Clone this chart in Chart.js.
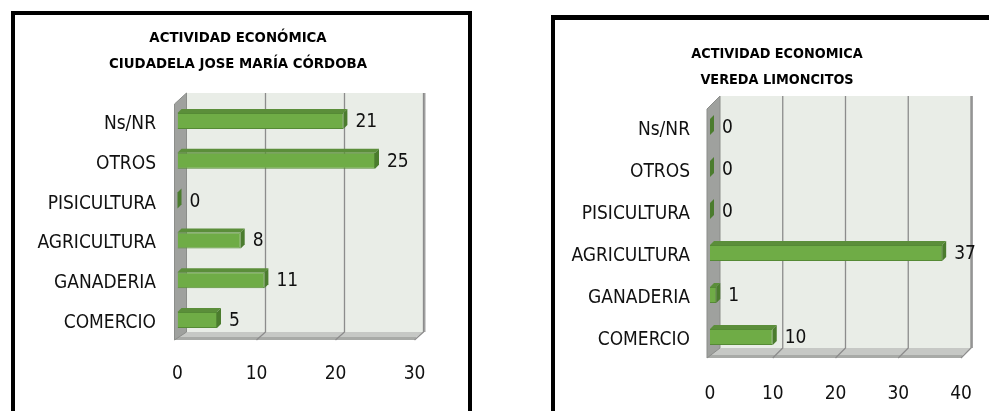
<!DOCTYPE html>
<html>
<head>
<meta charset="utf-8">
<script src="https://cdn.jsdelivr.net/npm/chart.js@4/dist/chart.umd.min.js"></script>
<style>
  html, body { margin: 0; padding: 0; background: #ffffff; }
  body { width: 989px; height: 411px; position: relative; overflow: hidden; }
  canvas { position: absolute; top: 0; }
  #c1 { left: 0; }
  #c2 { left: 495px; }
  .frame { position: absolute; border: 4px solid #000; box-sizing: border-box; pointer-events: none; }
  #f1 { left: 11px; top: 11px; width: 461px; height: 420px; }
  #f2 { left: 551px; top: 15px; width: 460px; height: 420px; border-top-width: 5px; }
</style>
</head>
<body>
<canvas id="c1" width="495" height="411"></canvas>
<canvas id="c2" width="494" height="411"></canvas>
<div class="frame" id="f1"></div>
<div class="frame" id="f2"></div>
<script>
// ---- data ----
const categories = ['Ns/NR', 'OTROS', 'PISICULTURA', 'AGRICULTURA', 'GANADERIA', 'COMERCIO'];
const ciudadelaValues = [21, 25, 0, 8, 11, 5];
const limoncitosValues = [0, 0, 0, 37, 1, 10];
const ciudadelaTicks = [0, 10, 20, 30];
const limoncitosTicks = [0, 10, 20, 30, 40];
const ciudadelaTitle = ['ACTIVIDAD ECONÓMICA', 'CIUDADELA JOSE MARÍA CÓRDOBA'];
const limoncitosTitle = ['ACTIVIDAD ECONOMICA', 'VEREDA LIMONCITOS'];

const FONT = "'Liberation Sans Narrow', 'Arial Narrow', 'DejaVu Sans Condensed', sans-serif";

// 3D walls, floor, gridlines and bar faces
const depth3D = {
  id: 'depth3D',
  afterLayout(chart) {
    // let the category labels use the full width left of the plot
    chart.scales.y.left = 0;
  },
  beforeDatasetsDraw(chart, args, o) {
    const {ctx} = chart;
    const {left: L, right: R, top: T, bottom: B} = chart.chartArea;
    const dx = o.dx, dy = o.dy;
    const xs = chart.scales.x;
    ctx.save();
    // back wall
    ctx.fillStyle = '#e9ede7';
    ctx.fillRect(L + dx, T - dy, R - L, B - T);
    // floor top
    ctx.fillStyle = '#c6c8c5';
    ctx.beginPath();
    ctx.moveTo(L - 3, B - 3);
    ctx.lineTo(L + dx, B - dy);
    ctx.lineTo(R + dx, B - dy);
    ctx.lineTo(R + 2, B - 3);
    ctx.closePath();
    ctx.fill();
    // floor front
    ctx.fillStyle = '#a8aaa7';
    ctx.beginPath();
    ctx.moveTo(L - 3, B - 3);
    ctx.lineTo(R + 2, B - 3);
    ctx.lineTo(R, B);
    ctx.lineTo(L - 3, B);
    ctx.closePath();
    ctx.fill();
    // left wall
    ctx.fillStyle = '#9fa19e';
    ctx.beginPath();
    ctx.moveTo(L - 3, T + 3);
    ctx.lineTo(L + dx, T - dy);
    ctx.lineTo(L + dx, B - dy);
    ctx.lineTo(L - 3, B);
    ctx.closePath();
    ctx.fill();
    ctx.strokeStyle = '#8b8d8a';
    ctx.lineWidth = 1;
    ctx.stroke();
    // right edge of back wall
    ctx.strokeStyle = '#a3a3a3';
    ctx.lineWidth = 2;
    ctx.beginPath();
    ctx.moveTo(R + dx + 1, T - dy);
    ctx.lineTo(R + dx + 1, B - dy);
    ctx.stroke();
    // gridlines on back wall and floor
    ctx.strokeStyle = '#8c8c8c';
    ctx.lineWidth = 1.3;
    xs.ticks.forEach(t => {
      const x = xs.getPixelForValue(t.value);
      if (t.value === xs.min) return;
      ctx.beginPath();
      ctx.moveTo(x + dx, T - dy);
      ctx.lineTo(x + dx, B - dy);
      ctx.lineTo(x, B);
      ctx.stroke();
    });
    ctx.restore();
  },
  afterDatasetsDraw(chart, args, o) {
    const {ctx} = chart;
    const meta = chart.getDatasetMeta(0);
    const data = chart.data.datasets[0].data;
    const bd = o.bd;
    ctx.save();
    meta.data.forEach((bar, i) => {
      const {x, y, base, height} = bar.getProps(['x', 'y', 'base', 'height'], true);
      const top = y - height / 2, bot = y + height / 2;
      // top face
      ctx.fillStyle = '#5b8e3a';
      ctx.beginPath();
      ctx.moveTo(base, top);
      ctx.lineTo(base + bd, top - bd);
      ctx.lineTo(x + bd, top - bd);
      ctx.lineTo(x, top);
      ctx.closePath();
      ctx.fill();
      // side face
      ctx.fillStyle = '#4b7c2e';
      ctx.beginPath();
      ctx.moveTo(x, top);
      ctx.lineTo(x + bd, top - bd);
      ctx.lineTo(x + bd, bot - bd);
      ctx.lineTo(x, bot);
      ctx.closePath();
      ctx.fill();
      // value label
      ctx.fillStyle = '#111111';
      ctx.font = o.labelSize + 'px ' + FONT;
      ctx.textAlign = 'left';
      ctx.textBaseline = 'middle';
      ctx.fillText(String(data[i]), x + 12, y + 1);
    });
    ctx.restore();
  }
};

function makeChart(id, values, ticks, title, g) {
  return new Chart(document.getElementById(id), {
    type: 'bar',
    data: {
      labels: categories,
      datasets: [{
        data: values,
        backgroundColor: '#6fac46',
        borderColor: '#558a35',
        borderWidth: 1,
        barPercentage: 1,
        categoryPercentage: g.catPct
      }]
    },
    options: {
      indexAxis: 'y',
      responsive: false,
      animation: false,
      events: [],
      layout: { padding: { left: g.padL, right: g.padR, top: 0, bottom: 0 } },
      plugins: {
        legend: { display: false },
        tooltip: { enabled: false },
        title: {
          display: true,
          text: title,
          color: '#000000',
          font: { family: FONT, size: g.titleSize, weight: 'bold', lineHeight: '26px' },
          padding: { top: g.titleTop, bottom: g.titleBottom }
        },
        depth3D: { dx: g.dx, dy: g.dy, bd: 4, labelSize: 19 }
      },
      scales: {
        x: {
          min: ticks[0],
          max: ticks[ticks.length - 1],
          grid: { display: false },
          border: { display: false },
          ticks: { stepSize: ticks[1] - ticks[0], color: '#111111', font: { family: FONT, size: 19 }, padding: g.xTickPad, maxRotation: 0 },
          afterFit(s) { s.height = g.xHeight; }
        },
        y: {
          grid: { display: false },
          border: { display: false },
          ticks: { color: '#111111', font: { family: FONT, size: 19 }, padding: g.yTickPad, crossAlign: 'near', labelOffset: 3 },
          afterFit(s) { s.width = g.yWidth; }
        }
      }
    },
    plugins: [depth3D]
  });
}

makeChart('c1', ciudadelaValues, ciudadelaTicks, ciudadelaTitle, {
  catPct: 0.4, padL: 61.5, padR: 80.5, yWidth: 116, yTickPad: 13.5,
  titleSize: 14.8, titleTop: 25, titleBottom: 24, xHeight: 71, xTickPad: 15,
  dx: 9, dy: 8
});
makeChart('c2', limoncitosValues, limoncitosTicks, limoncitosTitle, {
  catPct: 0.38, padL: 98, padR: 28, yWidth: 117, yTickPad: 12,
  titleSize: 14.3, titleTop: 41, titleBottom: 13, xHeight: 53, xTickPad: 17,
  dx: 10, dy: 10
});
</script>
</body>
</html>
